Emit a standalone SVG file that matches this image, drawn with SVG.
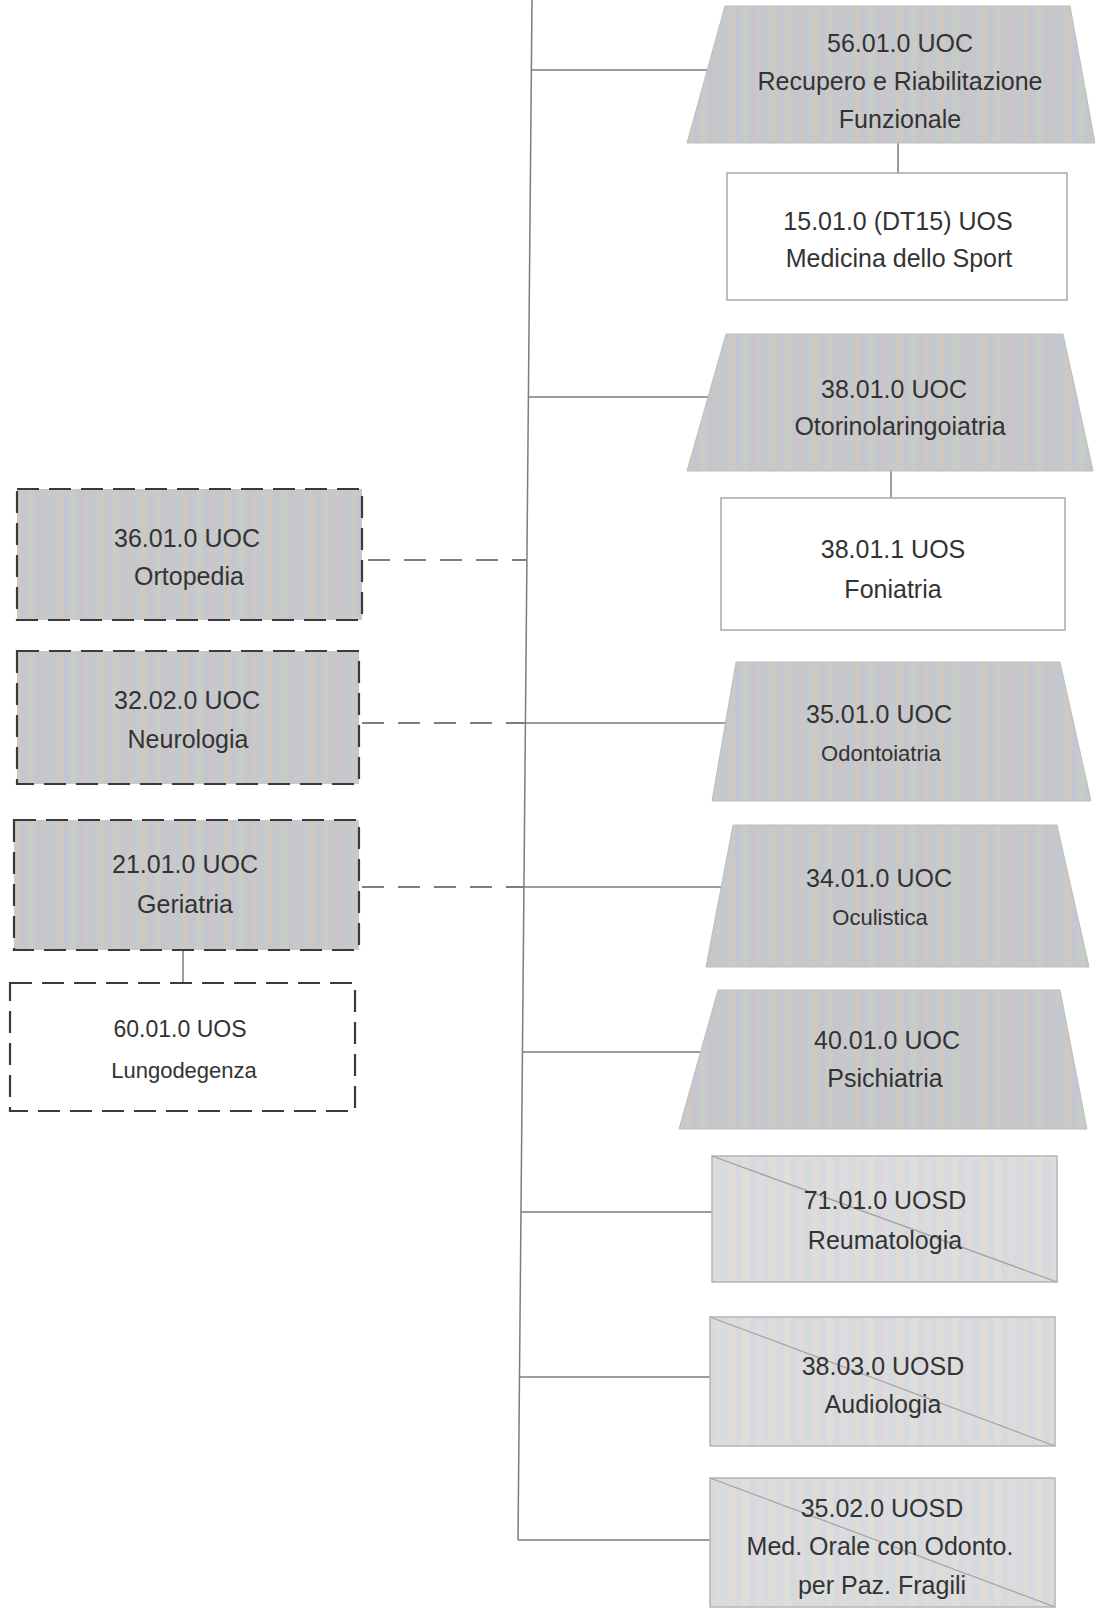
<svg xmlns="http://www.w3.org/2000/svg" width="1095" height="1613" viewBox="0 0 1095 1613">
  <defs>
    <pattern id="grayfill" patternUnits="userSpaceOnUse" width="42" height="8">
      <rect x="0" y="0" width="7" height="8" fill="#cbc6c9"/>
      <rect x="7" y="0" width="7" height="8" fill="#c2c9cf"/>
      <rect x="14" y="0" width="7" height="8" fill="#cdc9c2"/>
      <rect x="21" y="0" width="7" height="8" fill="#c5c7d0"/>
      <rect x="28" y="0" width="7" height="8" fill="#c8ccc6"/>
      <rect x="35" y="0" width="7" height="8" fill="#c6c5cc"/>
    </pattern>
    <pattern id="lightfill" patternUnits="userSpaceOnUse" width="42" height="8">
      <rect x="0" y="0" width="7" height="8" fill="#dddbdd"/>
      <rect x="7" y="0" width="7" height="8" fill="#d6dbe0"/>
      <rect x="14" y="0" width="7" height="8" fill="#dfdcd7"/>
      <rect x="21" y="0" width="7" height="8" fill="#d8dae1"/>
      <rect x="28" y="0" width="7" height="8" fill="#dcdfda"/>
      <rect x="35" y="0" width="7" height="8" fill="#d9d8de"/>
    </pattern>
  </defs>
  <style>
    .lbl { font-family: "Liberation Sans", Arial, sans-serif; font-size: 25px; fill: #333333; text-anchor: middle; }
    .sm { font-size: 22px; }
    .trap { fill: url(#grayfill); stroke: #bdbdbd; stroke-width: 1; }
    .uos { fill: #ffffff; stroke: #a8a8a8; stroke-width: 1.5; }
    .uosd { fill: url(#lightfill); stroke: #b5b5b5; stroke-width: 1.5; }
    .diag { stroke: #a2a2a2; stroke-width: 1.2; fill: none; }
    .ext { fill: url(#grayfill); stroke: #3a3a3a; stroke-width: 2.2; stroke-dasharray: 22 10; }
    .extw { fill: #ffffff; stroke: #3a3a3a; stroke-width: 2.2; stroke-dasharray: 22 10; }
    .conn { stroke: #7d7d7d; stroke-width: 1.5; fill: none; }
    .dash { stroke: #7d7d7d; stroke-width: 1.8; fill: none; stroke-dasharray: 22 14; }
  </style>

  <g id="connectors">
    <path class="conn" d="M532 0 L518 1540"/>
    <path class="conn" d="M531 70 L712 70"/>
    <path class="conn" d="M528 397 L712 397"/>
    <path class="conn" d="M525 723 L727 723"/>
    <path class="conn" d="M524 887 L724 887"/>
    <path class="conn" d="M522 1052 L703 1052"/>
    <path class="conn" d="M521 1212 L712 1212"/>
    <path class="conn" d="M519 1377 L710 1377"/>
    <path class="conn" d="M518 1540 L710 1540"/>
    <path class="conn" d="M898 143 L898 173"/>
    <path class="conn" d="M891 471 L891 498"/>
    <path class="conn" d="M183 950 L183 983"/>
    <path class="dash" d="M368 560 L526 560"/>
    <path class="dash" d="M362 723 L525 723"/>
    <path class="dash" d="M362 887 L524 887"/>
  </g>

  <g id="n5601">
    <polygon class="trap" points="725,6 1070,6 1095,143 687,143"/>
    <text class="lbl" x="900" y="52">56.01.0 UOC</text>
    <text class="lbl" x="900" y="90">Recupero e Riabilitazione</text>
    <text class="lbl" x="900" y="128">Funzionale</text>
  </g>
  <g id="n1501">
    <rect class="uos" x="727" y="173" width="340" height="127"/>
    <text class="lbl" x="898" y="230">15.01.0 (DT15) UOS</text>
    <text class="lbl" x="899" y="267">Medicina dello Sport</text>
  </g>
  <g id="n3801">
    <polygon class="trap" points="726,334 1063,334 1093,471 687,471"/>
    <text class="lbl" x="894" y="398">38.01.0 UOC</text>
    <text class="lbl" x="900" y="435">Otorinolaringoiatria</text>
  </g>
  <g id="n38011">
    <rect class="uos" x="721" y="498" width="344" height="132"/>
    <text class="lbl" x="893" y="558">38.01.1 UOS</text>
    <text class="lbl" x="893" y="598">Foniatria</text>
  </g>
  <g id="n3501">
    <polygon class="trap" points="736,662 1060,662 1091,801 712,801"/>
    <text class="lbl" x="879" y="723">35.01.0 UOC</text>
    <text class="lbl sm" x="881" y="761">Odontoiatria</text>
  </g>
  <g id="n3401">
    <polygon class="trap" points="733,825 1057,825 1089,967 706,967"/>
    <text class="lbl" x="879" y="887">34.01.0 UOC</text>
    <text class="lbl sm" x="880" y="925">Oculistica</text>
  </g>
  <g id="n4001">
    <polygon class="trap" points="718,990 1060,990 1087,1129 679,1129"/>
    <text class="lbl" x="887" y="1049">40.01.0 UOC</text>
    <text class="lbl" x="885" y="1087">Psichiatria</text>
  </g>
  <g id="n7101">
    <rect class="uosd" x="712" y="1156" width="345" height="126"/>
    <path class="diag" d="M712 1156 L1057 1282"/>
    <text class="lbl" x="885" y="1209">71.01.0 UOSD</text>
    <text class="lbl" x="885" y="1249">Reumatologia</text>
  </g>
  <g id="n3803">
    <rect class="uosd" x="710" y="1317" width="345" height="129"/>
    <path class="diag" d="M710 1317 L1055 1446"/>
    <text class="lbl" x="883" y="1375">38.03.0 UOSD</text>
    <text class="lbl" x="883" y="1413">Audiologia</text>
  </g>
  <g id="n3502">
    <rect class="uosd" x="710" y="1478" width="345" height="129"/>
    <path class="diag" d="M710 1478 L1055 1607"/>
    <text class="lbl" x="882" y="1517">35.02.0 UOSD</text>
    <text class="lbl" x="880" y="1555">Med. Orale con Odonto.</text>
    <text class="lbl" x="882" y="1594">per Paz. Fragili</text>
  </g>

  <g id="n3601">
    <rect class="ext" x="17" y="489" width="345" height="131"/>
    <text class="lbl" x="187" y="547">36.01.0 UOC</text>
    <text class="lbl" x="189" y="585">Ortopedia</text>
  </g>
  <g id="n3202">
    <rect class="ext" x="17" y="651" width="342" height="133"/>
    <text class="lbl" x="187" y="709">32.02.0 UOC</text>
    <text class="lbl" x="188" y="748">Neurologia</text>
  </g>
  <g id="n2101">
    <rect class="ext" x="14" y="820" width="345" height="130"/>
    <text class="lbl" x="185" y="873">21.01.0 UOC</text>
    <text class="lbl" x="185" y="913">Geriatria</text>
  </g>
  <g id="n6001">
    <rect class="extw" x="10" y="983" width="345" height="128"/>
    <text class="lbl" x="180" y="1037" style="font-size:23px">60.01.0 UOS</text>
    <text class="lbl sm" x="184" y="1078">Lungodegenza</text>
  </g>
</svg>
